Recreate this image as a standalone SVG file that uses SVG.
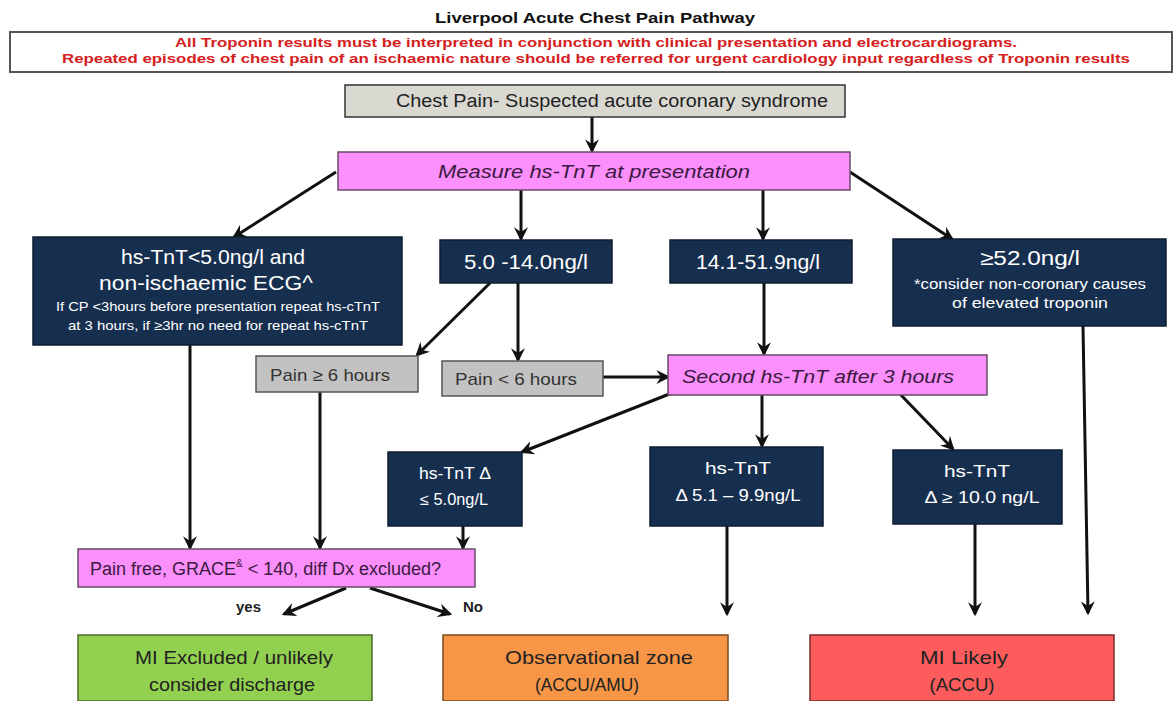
<svg xmlns="http://www.w3.org/2000/svg" width="1176" height="701" viewBox="0 0 1176 701">
<defs>
<style>
.t{font-family:"Liberation Sans",Arial,sans-serif}
.dark{fill:#172f4f;stroke:#0e1e33;stroke-width:1.5}
.pink{fill:#fb8ffb;stroke:#6a4a6a;stroke-width:1.5}
.grey{fill:#c2c2c2;stroke:#555;stroke-width:1.5}
.w{fill:#ffffff;font-family:"Liberation Sans",Arial,sans-serif;text-anchor:middle}
.pt{fill:#3a1a40;font-family:"Liberation Sans",Arial,sans-serif}
.bt{fill:#222;font-family:"Liberation Sans",Arial,sans-serif;text-anchor:middle;font-size:19px}
.c line{stroke:#111;stroke-width:3;fill:none;marker-end:url(#ah)}
</style>
<marker id="ah" viewBox="0 0 12 12" refX="10" refY="6" markerWidth="14" markerHeight="14" markerUnits="userSpaceOnUse" orient="auto">
<path d="M0,0 L12,6 L0,12 L4,6 Z" fill="#111"/>
</marker>
</defs>
<rect width="1176" height="701" fill="#ffffff"/>

<g id="title">
<text class="t" x="595" y="23" font-size="15" font-weight="bold" text-anchor="middle" fill="#111" textLength="320" lengthAdjust="spacingAndGlyphs">Liverpool Acute Chest Pain Pathway</text>
</g>
<g id="warning">
<rect x="10" y="32" width="1162" height="40" fill="#fff" stroke="#555" stroke-width="2"/>
<text class="t" x="596" y="47" font-size="13" font-weight="bold" text-anchor="middle" fill="#d42020" textLength="842" lengthAdjust="spacingAndGlyphs">All Troponin results must be interpreted in conjunction with clinical presentation and electrocardiograms.</text>
<text class="t" x="596" y="63" font-size="13" font-weight="bold" text-anchor="middle" fill="#d42020" textLength="1068" lengthAdjust="spacingAndGlyphs">Repeated episodes of chest pain of an ischaemic nature should be referred for urgent cardiology input regardless of Troponin results</text>
</g>

<g id="connectors" class="c">
<line x1="592" y1="117" x2="592" y2="151"/>
<line x1="336" y1="172" x2="234" y2="237"/>
<line x1="521" y1="190" x2="521" y2="239"/>
<line x1="763" y1="190" x2="763" y2="239"/>
<line x1="850" y1="172" x2="952" y2="239"/>
<line x1="490" y1="283" x2="417" y2="355"/>
<line x1="518" y1="283" x2="518" y2="360"/>
<line x1="603" y1="377" x2="668" y2="377"/>
<line x1="764" y1="283" x2="764" y2="354"/>
<line x1="1083" y1="326" x2="1088" y2="613"/>
<line x1="672" y1="393" x2="522" y2="452"/>
<line x1="762" y1="395" x2="762" y2="446"/>
<line x1="900" y1="394" x2="953" y2="449"/>
<line x1="190" y1="345" x2="190" y2="548"/>
<line x1="320" y1="392" x2="320" y2="548"/>
<line x1="463" y1="526" x2="463" y2="548"/>
<line x1="727" y1="526" x2="727" y2="614"/>
<line x1="975" y1="524" x2="975" y2="614"/>
<line x1="346" y1="588" x2="284" y2="614"/>
<line x1="370" y1="588" x2="450" y2="614"/>
</g>

<g id="chest-pain">
<rect x="345" y="85" width="500" height="32" fill="#d9d9d2" stroke="#333" stroke-width="1.5"/>
<text class="t" x="612" y="107" font-size="18" text-anchor="middle" fill="#222" textLength="432" lengthAdjust="spacingAndGlyphs">Chest Pain- Suspected acute coronary syndrome</text>
</g>
<g id="measure">
<rect class="pink" x="338" y="152" width="512" height="38"/>
<text class="pt" x="594" y="178" font-size="19" font-style="italic" text-anchor="middle" textLength="312" lengthAdjust="spacingAndGlyphs">Measure hs-TnT at presentation</text>
</g>
<g id="low">
<rect class="dark" x="33" y="237" width="369" height="108"/>
<text class="w" x="213" y="264" font-size="20" textLength="184" lengthAdjust="spacingAndGlyphs">hs-TnT&lt;5.0ng/l and</text>
<text class="w" x="206" y="290" font-size="20" textLength="214" lengthAdjust="spacingAndGlyphs">non-ischaemic ECG^</text>
<text class="w" x="218" y="311" font-size="13" textLength="324" lengthAdjust="spacingAndGlyphs">If CP &lt;3hours before presentation repeat hs-cTnT</text>
<text class="w" x="218" y="330" font-size="13" textLength="300" lengthAdjust="spacingAndGlyphs">at 3 hours, if ≥3hr no need for repeat hs-cTnT</text>
</g>
<g id="mid1">
<rect class="dark" x="440" y="240" width="172" height="43"/>
<text class="w" x="526" y="269" font-size="20" textLength="124" lengthAdjust="spacingAndGlyphs">5.0 -14.0ng/l</text>
</g>
<g id="mid2">
<rect class="dark" x="670" y="240" width="182" height="43"/>
<text class="w" x="758" y="269" font-size="20" textLength="124" lengthAdjust="spacingAndGlyphs">14.1-51.9ng/l</text>
</g>
<g id="high">
<rect class="dark" x="893" y="239" width="273" height="87"/>
<text class="w" x="1030" y="265" font-size="20" textLength="100" lengthAdjust="spacingAndGlyphs">≥52.0ng/l</text>
<text class="w" x="1030" y="289" font-size="14" textLength="232" lengthAdjust="spacingAndGlyphs">*consider non-coronary causes</text>
<text class="w" x="1030" y="308" font-size="14" textLength="156" lengthAdjust="spacingAndGlyphs">of elevated troponin</text>
</g>
<g id="pain-ge6">
<rect class="grey" x="256" y="356" width="162" height="36"/>
<text class="t" x="270" y="381" font-size="17" fill="#333" textLength="120" lengthAdjust="spacingAndGlyphs">Pain ≥ 6 hours</text>
</g>
<g id="pain-lt6">
<rect class="grey" x="442" y="361" width="161" height="35"/>
<text class="t" x="455" y="385" font-size="17" fill="#333" textLength="122" lengthAdjust="spacingAndGlyphs">Pain &lt; 6 hours</text>
</g>
<g id="second">
<rect class="pink" x="668" y="355" width="319" height="40"/>
<text class="pt" x="682" y="383" font-size="19" font-style="italic" textLength="272" lengthAdjust="spacingAndGlyphs">Second hs-TnT after 3 hours</text>
</g>
<g id="delta-low">
<rect class="dark" x="388" y="452" width="134" height="74"/>
<text class="w" x="455" y="479" font-size="17" textLength="72" lengthAdjust="spacingAndGlyphs">hs-TnT Δ</text>
<text class="w" x="454" y="505" font-size="16" textLength="68" lengthAdjust="spacingAndGlyphs">≤ 5.0ng/L</text>
</g>
<g id="delta-mid">
<rect class="dark" x="650" y="447" width="173" height="79"/>
<text class="w" x="738" y="474" font-size="17" textLength="66" lengthAdjust="spacingAndGlyphs">hs-TnT</text>
<text class="w" x="738" y="501" font-size="16" textLength="125" lengthAdjust="spacingAndGlyphs">Δ  5.1 – 9.9ng/L</text>
</g>
<g id="delta-high">
<rect class="dark" x="893" y="450" width="169" height="74"/>
<text class="w" x="977" y="477" font-size="17" textLength="66" lengthAdjust="spacingAndGlyphs">hs-TnT</text>
<text class="w" x="982" y="503" font-size="16" textLength="115" lengthAdjust="spacingAndGlyphs">Δ ≥ 10.0 ng/L</text>
</g>
<g id="pain-free">
<rect class="pink" x="78" y="549" width="397" height="38"/>
<text class="pt" x="90" y="575" font-size="18">Pain free, GRACE<tspan font-size="10" dy="-8">&amp;</tspan><tspan dy="8"> &lt; 140, diff Dx excluded?</tspan></text>
</g>
<g id="labels">
<text class="t" x="236" y="612" font-size="15" font-weight="bold" fill="#222">yes</text>
<text class="t" x="463" y="612" font-size="15" font-weight="bold" fill="#222">No</text>
</g>
<g id="excluded">
<rect x="78" y="635" width="294" height="66" fill="#92d050" stroke="#4d6b2a" stroke-width="1.5"/>
<text class="bt" x="234" y="664" textLength="198" lengthAdjust="spacingAndGlyphs">MI Excluded / unlikely</text>
<text class="bt" x="232" y="691" textLength="166" lengthAdjust="spacingAndGlyphs">consider discharge</text>
</g>
<g id="observational">
<rect x="443" y="635" width="285" height="66" fill="#f79646" stroke="#7a4a20" stroke-width="1.5"/>
<text class="bt" x="599" y="664" textLength="188" lengthAdjust="spacingAndGlyphs">Observational zone</text>
<text class="bt" x="587" y="691" textLength="104" lengthAdjust="spacingAndGlyphs">(ACCU/AMU)</text>
</g>
<g id="likely">
<rect x="810" y="635" width="304" height="66" fill="#fc5c5c" stroke="#7a2a2a" stroke-width="1.5"/>
<text class="bt" x="964" y="664" textLength="88" lengthAdjust="spacingAndGlyphs">MI Likely</text>
<text class="bt" x="962" y="691" textLength="65" lengthAdjust="spacingAndGlyphs">(ACCU)</text>
</g>
</svg>
